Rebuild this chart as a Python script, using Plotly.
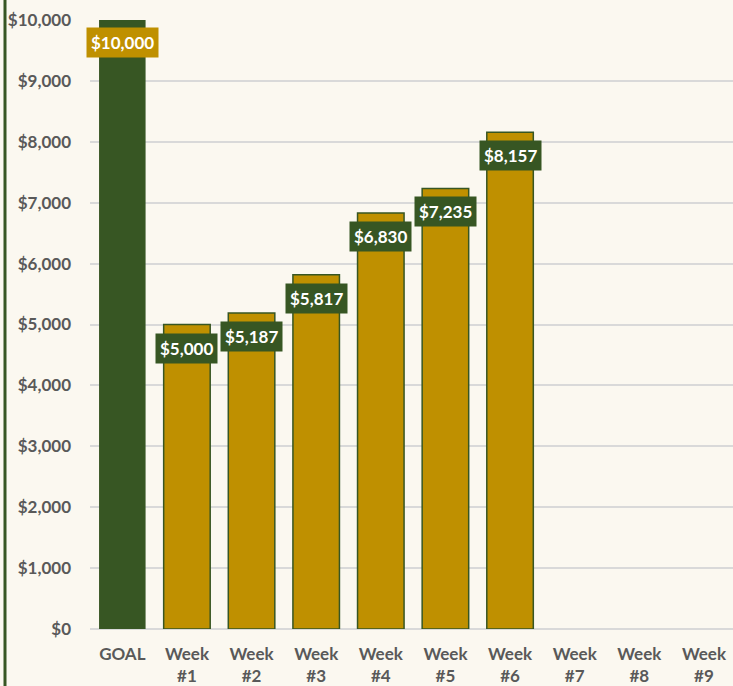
import plotly.graph_objects as go

categories = ["GOAL", "Week<br>#1", "Week<br>#2", "Week<br>#3", "Week<br>#4",
              "Week<br>#5", "Week<br>#6", "Week<br>#7", "Week<br>#8", "Week<br>#9"]
goal_value = [10000, None, None, None, None, None, None, None, None, None]
week_values = [None, 5000, 5187, 5817, 6830, 7235, 8157, None, None, None]
y_ticks = [0, 1000, 2000, 3000, 4000, 5000, 6000, 7000, 8000, 9000, 10000]
y_tick_labels = [f"${v:,}" for v in y_ticks]

GREEN = "#375623"
GOLD = "#BF9000"
BG = "#FBF8F0"
FONT = "Lato"

fig = go.Figure()
fig.add_trace(go.Bar(x=categories, y=goal_value, marker=dict(color=GREEN, line=dict(width=0)),
                     width=0.72, showlegend=False, hoverinfo="skip"))
fig.add_trace(go.Bar(x=categories, y=week_values, marker=dict(color=GOLD, line=dict(color=GREEN, width=1.5)),
                     width=0.72, showlegend=False, hoverinfo="skip"))
fig.update_layout(barmode="overlay")

for c, v in zip(categories, goal_value):
    if v is not None:
        fig.add_annotation(x=c, y=v, text=f"<b>${v:,}</b>", showarrow=False, yanchor="top", yshift=-7,
                           bgcolor=GOLD, borderpad=4, font=dict(family=FONT, size=17, color="white"))
for c, v in zip(categories, week_values):
    if v is not None:
        fig.add_annotation(x=c, y=v, text=f"<b>${v:,}</b>", showarrow=False, yanchor="top", yshift=-8,
                           bgcolor=GREEN, borderpad=4, font=dict(family=FONT, size=17, color="white"))

L, R, T, B = 90, 0, 20, 57
W, H = 733, 686
pw = W - L - R
ph = H - T - B
fig.add_shape(type="line", xref="paper", yref="paper",
              x0=(5 - L) / pw, x1=(5 - L) / pw, y0=-(B) / ph - 0.01, y1=1 + T / ph + 0.01,
              line=dict(color=GREEN, width=3))

fig.update_layout(
    width=W, height=H,
    margin=dict(l=L, r=R, t=T, b=B),
    paper_bgcolor=BG, plot_bgcolor=BG,
    font=dict(family=FONT, color="#595959"),
    xaxis=dict(range=[-0.5, 9.45], tickfont=dict(family=FONT, size=17, color="#595959", weight="bold"),
               showgrid=False, showline=False, ticks="", ticklabelstandoff=13, automargin=False),
    yaxis=dict(range=[0, 10000], tickvals=y_ticks, ticktext=y_tick_labels,
               tickfont=dict(family=FONT, size=17, color="#595959", weight="bold"),
               showgrid=True, gridcolor="#D9D9D9", gridwidth=1.5, automargin=False,
               zeroline=True, zerolinecolor="#D9D9D9", zerolinewidth=1.5, ticks="", ticklabelstandoff=18),
)

fig.write_html("out.html", config={"displayModeBar": False},
               post_script="document.body.style.margin='0';document.body.style.overflow='hidden';")
